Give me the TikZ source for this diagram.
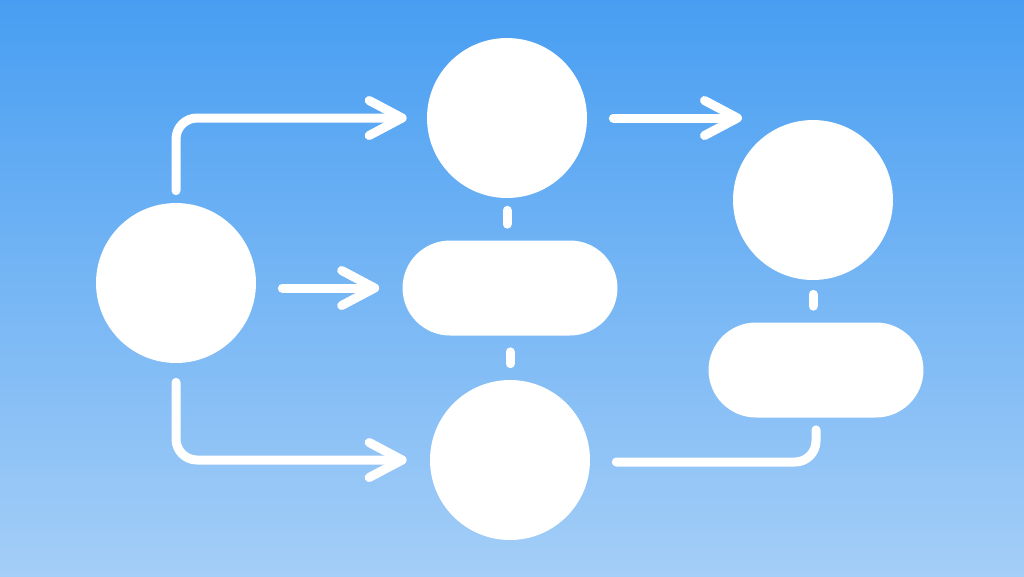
\documentclass[tikz,border=0pt]{standalone}
\usetikzlibrary{positioning,calc,arrows.meta}
\definecolor{skytop}{RGB}{72,158,242}
\definecolor{skybot}{RGB}{164,206,247}

\begin{document}
\begin{tikzpicture}[x=0.02cm,y=-0.02cm]
\shade[top color=skytop,bottom color=skybot] (0,0) rectangle (1024,576);
\useasboundingbox (0,0) rectangle (1024,576);

\begin{scope}[every node/.style={fill=white,draw=none,inner sep=0pt}]
    \node[circle,minimum size=3.2cm] (A) at (176,283) {};
    \node[circle,minimum size=3.2cm] (T) at (507,118) {};
    \node[circle,minimum size=3.2cm] (B) at (510,460) {};
    \node[circle,minimum size=3.2cm] (R) at (813,200) {};
    \node[rectangle,rounded corners=0.95cm,minimum width=4.3cm,minimum height=1.9cm] (M) at (510,288) {};
    \node[rectangle,rounded corners=0.95cm,minimum width=4.3cm,minimum height=1.9cm] (S) at (816,370) {};
\end{scope}
\coordinate (tr) at (742,118);

\begin{scope}[>={Straight Barb[length=0.66cm,width=0.7cm,round]},
              every path/.style={draw=white,line width=0.18cm,line cap=round}]
    \draw[->,rounded corners=0.42cm,shorten <=0.24cm,shorten >=0.4cm] (A.north) |- (T.west);
    \draw[->,shorten <=0.52cm,shorten >=0.46cm] (A.east |- M.west) -- (M.west);
    \draw[->,rounded corners=0.42cm,shorten <=0.38cm,shorten >=0.46cm] (A.south) |- (B.west);
    \draw[->,shorten <=0.52cm] (T.east) -- (tr);
    \draw[rounded corners=0.42cm,shorten <=0.52cm,shorten >=0.24cm] ($(B.east)+(0,2)$) -| (S.south);
    % short links
    \draw[shorten <=0.24cm,shorten >=0.32cm] (T.south) -- (T.south |- M.north);
    \draw[shorten <=0.32cm,shorten >=0.32cm] (M.south) -- (M.south |- B.north);
    \draw[shorten <=0.28cm,shorten >=0.32cm] (R.south) -- (R.south |- S.north);
\end{scope}
\end{tikzpicture}
\end{document}
